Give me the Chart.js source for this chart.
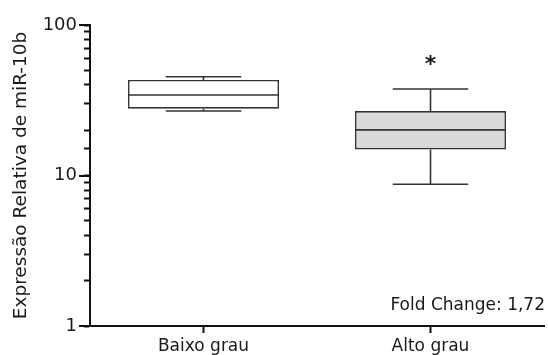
<!DOCTYPE html>
<html>
<head>
<meta charset="utf-8">
<script src="https://cdn.jsdelivr.net/npm/chart.js@4.4.1/dist/chart.umd.min.js"></script>
<style>
    body { margin: 0; background: #fff; }
</style>
</head>
<body>
<canvas id="boxChart" width="548" height="355"></canvas>
<script>
// данные
const categories = ["Baixo grau", "Alto grau"];
const minVals = [26.8, 8.75];
const q1Vals = [27.8, 14.9];
const medianVals = [34.3, 20.1];
const q3Vals = [43.1, 26.8];
const maxVals = [45.3, 37.6];
const boxColors = ["#ffffff", "#d9d9d9"];
const starMarks = ["", "*"];
const yTickLabels = [1, 10, 100];
const yTitle = "Expressão Relativa de miR-10b";
const foldText = "Fold Change: 1,72";

const FONT = "'DejaVu Sans', Arial, sans-serif";
const INK = "#1a1a1a";

// усы, медиана, звёздочка и подпись
const boxPlugin = {
    id: "boxPlugin",
    afterDatasetsDraw: (chart) => {
        const ctx = chart.ctx;
        const y = chart.scales.y;
        const bars = chart.getDatasetMeta(0).data;
        ctx.save();
        bars.forEach((bar, i) => {
            const half = bar.width / 2;
            const cap = bar.width / 4;
            const yMin = y.getPixelForValue(minVals[i]);
            const yQ1 = y.getPixelForValue(q1Vals[i]);
            const yMed = y.getPixelForValue(medianVals[i]);
            const yQ3 = y.getPixelForValue(q3Vals[i]);
            const yMax = y.getPixelForValue(maxVals[i]);

            ctx.strokeStyle = "#333";
            ctx.lineWidth = 1.6;
            ctx.beginPath();
            ctx.moveTo(bar.x - half, yMed);
            ctx.lineTo(bar.x + half, yMed);
            ctx.moveTo(bar.x, yQ3);
            ctx.lineTo(bar.x, yMax);
            ctx.moveTo(bar.x, yQ1);
            ctx.lineTo(bar.x, yMin);
            ctx.moveTo(bar.x - cap, yMax);
            ctx.lineTo(bar.x + cap, yMax);
            ctx.moveTo(bar.x - cap, yMin);
            ctx.lineTo(bar.x + cap, yMin);
            ctx.stroke();

            if (starMarks[i]) {
                ctx.fillStyle = INK;
                ctx.font = "bold 22px " + FONT;
                ctx.textAlign = "center";
                ctx.textBaseline = "middle";
                ctx.fillText(starMarks[i], bar.x, yMax - 24);
            }
        });

        // длинные деления на 1, 10, 100
        ctx.strokeStyle = "#111";
        ctx.lineWidth = 2;
        ctx.beginPath();
        yTickLabels.forEach(v => {
            const py = Math.round(y.getPixelForValue(v));
            ctx.moveTo(y.right - 11, py);
            ctx.lineTo(y.right, py);
        });
        ctx.stroke();

        const area = chart.chartArea;
        ctx.fillStyle = INK;
        ctx.font = "17px " + FONT;
        ctx.textAlign = "right";
        ctx.textBaseline = "alphabetic";
        ctx.fillText(foldText, area.right + 1, area.bottom - 16);
        ctx.restore();
    }
};

const ctx = document.getElementById("boxChart").getContext("2d");
new Chart(ctx, {
    type: "bar",
    data: {
        labels: categories,
        datasets: [{
            data: q1Vals.map((v, i) => [v, q3Vals[i]]),
            backgroundColor: boxColors,
            borderColor: "#333",
            borderWidth: 1.6,
            borderSkipped: false,
            barPercentage: 0.665,
            categoryPercentage: 1
        }]
    },
    options: {
        responsive: false,
        animation: false,
        layout: {
            padding: { top: 25, right: 4, left: 0, bottom: 0 }
        },
        plugins: {
            legend: { display: false },
            tooltip: { enabled: false }
        },
        scales: {
            x: {
                offset: true,
                grid: {
                    offset: false,
                    drawOnChartArea: false,
                    tickLength: 7,
                    tickWidth: 2,
                    tickColor: "#111"
                },
                border: { color: "#111", width: 2 },
                ticks: {
                    color: INK,
                    padding: 3,
                    font: { family: FONT, size: 17 }
                },
                afterFit: (scale) => { scale.height = 29; }
            },
            y: {
                type: "logarithmic",
                min: 1,
                max: 100,
                grid: {
                    drawOnChartArea: false,
                    tickLength: 6,
                    tickWidth: 2,
                    tickColor: "#111"
                },
                border: { color: "#111", width: 2 },
                ticks: {
                    autoSkip: false,
                    color: INK,
                    padding: 7,
                    font: { family: FONT, size: 18 },
                    callback: (value) => yTickLabels.includes(value) ? String(value) : ""
                },
                title: {
                    display: true,
                    text: yTitle,
                    color: INK,
                    font: { family: FONT, size: 18.5 },
                    padding: { top: 10, bottom: 0 }
                },
                afterFit: (scale) => { scale.width = 90; }
            }
        }
    },
    plugins: [boxPlugin]
});
</script>
</body>
</html>
